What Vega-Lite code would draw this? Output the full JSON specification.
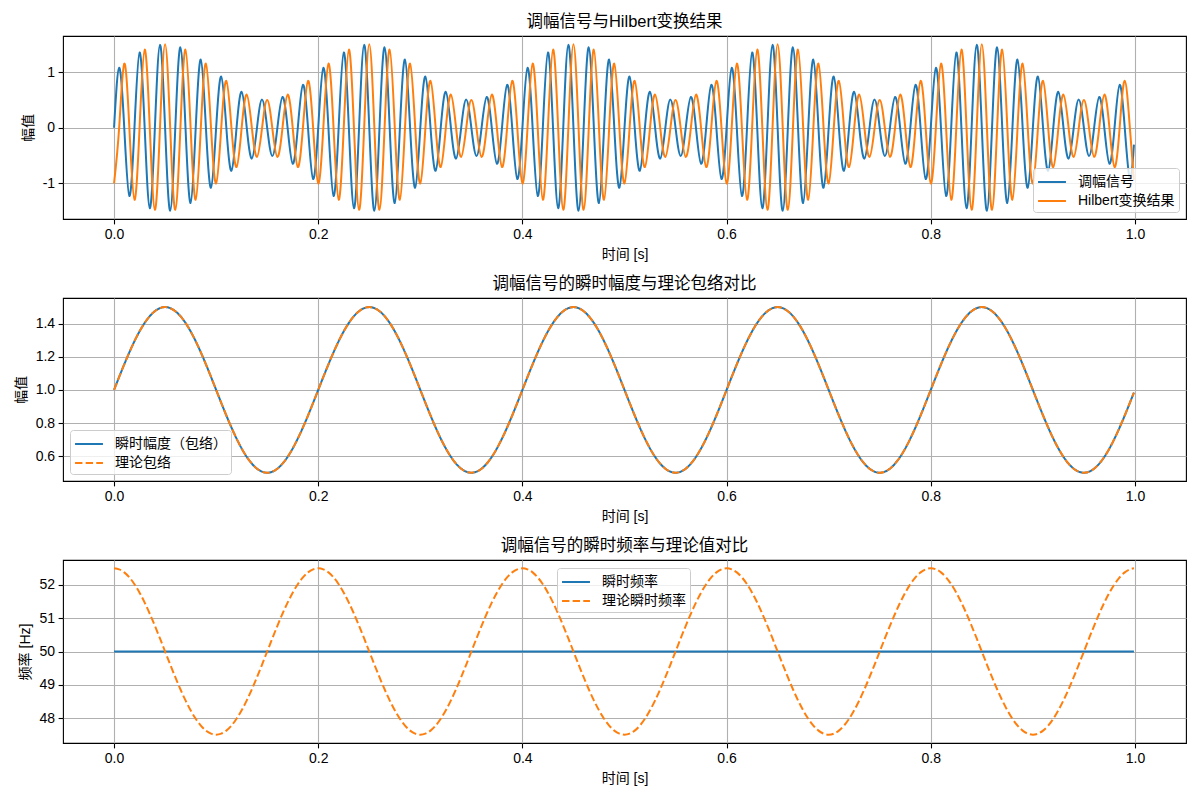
{
"$schema": "https://vega.github.io/schema/vega-lite/v6.json",
"padding": {"left": 13, "top": 12, "right": 10, "bottom": 10},
"spacing": 12,
"config": {
 "font": "Liberation Sans, Noto Sans CJK SC",
 "view": {"stroke": "#000", "strokeWidth": 1.1},
 "axis": {"domain": false, "grid": true, "gridColor": "#b0b0b0", "gridWidth": 1.1, "tickColor": "#000", "tickWidth": 1.1, "tickSize": 4.9, "labelFontSize": 14, "labelColor": "#000", "titleFontSize": 14, "titleFontWeight": "normal", "titleColor": "#000", "labelPadding": 3.5, "titlePadding": 6},
 "axisY": {"titlePadding": 7},
 "title": {"fontSize": 16.5, "fontWeight": "normal", "color": "#000", "offset": 6, "frame": "group"},
 "legend": {"labelFontSize": 14, "labelColor": "#000", "fillColor": "rgba(255,255,255,0.8)", "strokeColor": "#cccccc", "cornerRadius": 3, "padding": 4, "symbolType": "M-1.55,0H1.55", "symbolSize": 324, "symbolStrokeWidth": 2, "symbolOffset": 5, "labelOffset": 16, "rowPadding": 2, "title": null}
},
"datasets": {
"sig": [
{"t":0,"s":0,"h":-1,"e":1,"f":52.5},
{"t":0.005,"s":1.0782,"h":0,"e":1.0782,"f":52.469},
{"t":0.01,"s":0,"h":1.1545,"e":1.1545,"f":52.378},
{"t":0.015,"s":-1.227,"h":0,"e":1.227,"f":52.228},
{"t":0.02,"s":0,"h":-1.2939,"e":1.2939,"f":52.023},
{"t":0.025,"s":1.3536,"h":0,"e":1.3536,"f":51.768},
{"t":0.03,"s":0,"h":1.4045,"e":1.4045,"f":51.469},
{"t":0.035,"s":-1.4455,"h":0,"e":1.4455,"f":51.135},
{"t":0.04,"s":0,"h":-1.4755,"e":1.4755,"f":50.773},
{"t":0.045,"s":1.4938,"h":0,"e":1.4938,"f":50.391},
{"t":0.05,"s":0,"h":1.5,"e":1.5,"f":50},
{"t":0.055,"s":-1.4938,"h":0,"e":1.4938,"f":49.609},
{"t":0.06,"s":0,"h":-1.4755,"e":1.4755,"f":49.227},
{"t":0.065,"s":1.4455,"h":0,"e":1.4455,"f":48.865},
{"t":0.07,"s":0,"h":1.4045,"e":1.4045,"f":48.531},
{"t":0.075,"s":-1.3536,"h":0,"e":1.3536,"f":48.232},
{"t":0.08,"s":0,"h":-1.2939,"e":1.2939,"f":47.977},
{"t":0.085,"s":1.227,"h":0,"e":1.227,"f":47.772},
{"t":0.09,"s":0,"h":1.1545,"e":1.1545,"f":47.622},
{"t":0.095,"s":-1.0782,"h":0,"e":1.0782,"f":47.531},
{"t":0.1,"s":0,"h":-1,"e":1,"f":47.5},
{"t":0.105,"s":0.9218,"h":0,"e":0.9218,"f":47.531},
{"t":0.11,"s":0,"h":0.8455,"e":0.8455,"f":47.622},
{"t":0.115,"s":-0.773,"h":0,"e":0.773,"f":47.772},
{"t":0.12,"s":0,"h":-0.7061,"e":0.7061,"f":47.977},
{"t":0.125,"s":0.6464,"h":0,"e":0.6464,"f":48.232},
{"t":0.13,"s":0,"h":0.5955,"e":0.5955,"f":48.531},
{"t":0.135,"s":-0.5545,"h":0,"e":0.5545,"f":48.865},
{"t":0.14,"s":0,"h":-0.5245,"e":0.5245,"f":49.227},
{"t":0.145,"s":0.5062,"h":0,"e":0.5062,"f":49.609},
{"t":0.15,"s":0,"h":0.5,"e":0.5,"f":50},
{"t":0.155,"s":-0.5062,"h":0,"e":0.5062,"f":50.391},
{"t":0.16,"s":0,"h":-0.5245,"e":0.5245,"f":50.773},
{"t":0.165,"s":0.5545,"h":0,"e":0.5545,"f":51.135},
{"t":0.17,"s":0,"h":0.5955,"e":0.5955,"f":51.469},
{"t":0.175,"s":-0.6464,"h":0,"e":0.6464,"f":51.768},
{"t":0.18,"s":0,"h":-0.7061,"e":0.7061,"f":52.023},
{"t":0.185,"s":0.773,"h":0,"e":0.773,"f":52.228},
{"t":0.19,"s":0,"h":0.8455,"e":0.8455,"f":52.378},
{"t":0.195,"s":-0.9218,"h":0,"e":0.9218,"f":52.469},
{"t":0.2,"s":0,"h":-1,"e":1,"f":52.5},
{"t":0.205,"s":1.0782,"h":0,"e":1.0782,"f":52.469},
{"t":0.21,"s":0,"h":1.1545,"e":1.1545,"f":52.378},
{"t":0.215,"s":-1.227,"h":0,"e":1.227,"f":52.228},
{"t":0.22,"s":0,"h":-1.2939,"e":1.2939,"f":52.023},
{"t":0.225,"s":1.3536,"h":0,"e":1.3536,"f":51.768},
{"t":0.23,"s":0,"h":1.4045,"e":1.4045,"f":51.469},
{"t":0.235,"s":-1.4455,"h":0,"e":1.4455,"f":51.135},
{"t":0.24,"s":0,"h":-1.4755,"e":1.4755,"f":50.773},
{"t":0.245,"s":1.4938,"h":0,"e":1.4938,"f":50.391},
{"t":0.25,"s":0,"h":1.5,"e":1.5,"f":50},
{"t":0.255,"s":-1.4938,"h":0,"e":1.4938,"f":49.609},
{"t":0.26,"s":0,"h":-1.4755,"e":1.4755,"f":49.227},
{"t":0.265,"s":1.4455,"h":0,"e":1.4455,"f":48.865},
{"t":0.27,"s":0,"h":1.4045,"e":1.4045,"f":48.531},
{"t":0.275,"s":-1.3536,"h":0,"e":1.3536,"f":48.232},
{"t":0.28,"s":0,"h":-1.2939,"e":1.2939,"f":47.977},
{"t":0.285,"s":1.227,"h":0,"e":1.227,"f":47.772},
{"t":0.29,"s":0,"h":1.1545,"e":1.1545,"f":47.622},
{"t":0.295,"s":-1.0782,"h":0,"e":1.0782,"f":47.531},
{"t":0.3,"s":0,"h":-1,"e":1,"f":47.5},
{"t":0.305,"s":0.9218,"h":0,"e":0.9218,"f":47.531},
{"t":0.31,"s":0,"h":0.8455,"e":0.8455,"f":47.622},
{"t":0.315,"s":-0.773,"h":0,"e":0.773,"f":47.772},
{"t":0.32,"s":0,"h":-0.7061,"e":0.7061,"f":47.977},
{"t":0.325,"s":0.6464,"h":0,"e":0.6464,"f":48.232},
{"t":0.33,"s":0,"h":0.5955,"e":0.5955,"f":48.531},
{"t":0.335,"s":-0.5545,"h":0,"e":0.5545,"f":48.865},
{"t":0.34,"s":0,"h":-0.5245,"e":0.5245,"f":49.227},
{"t":0.345,"s":0.5062,"h":0,"e":0.5062,"f":49.609},
{"t":0.35,"s":0,"h":0.5,"e":0.5,"f":50},
{"t":0.355,"s":-0.5062,"h":0,"e":0.5062,"f":50.391},
{"t":0.36,"s":0,"h":-0.5245,"e":0.5245,"f":50.773},
{"t":0.365,"s":0.5545,"h":0,"e":0.5545,"f":51.135},
{"t":0.37,"s":0,"h":0.5955,"e":0.5955,"f":51.469},
{"t":0.375,"s":-0.6464,"h":0,"e":0.6464,"f":51.768},
{"t":0.38,"s":0,"h":-0.7061,"e":0.7061,"f":52.023},
{"t":0.385,"s":0.773,"h":0,"e":0.773,"f":52.228},
{"t":0.39,"s":0,"h":0.8455,"e":0.8455,"f":52.378},
{"t":0.395,"s":-0.9218,"h":0,"e":0.9218,"f":52.469},
{"t":0.4,"s":0,"h":-1,"e":1,"f":52.5},
{"t":0.405,"s":1.0782,"h":0,"e":1.0782,"f":52.469},
{"t":0.41,"s":0,"h":1.1545,"e":1.1545,"f":52.378},
{"t":0.415,"s":-1.227,"h":0,"e":1.227,"f":52.228},
{"t":0.42,"s":0,"h":-1.2939,"e":1.2939,"f":52.023},
{"t":0.425,"s":1.3536,"h":0,"e":1.3536,"f":51.768},
{"t":0.43,"s":0,"h":1.4045,"e":1.4045,"f":51.469},
{"t":0.435,"s":-1.4455,"h":0,"e":1.4455,"f":51.135},
{"t":0.44,"s":0,"h":-1.4755,"e":1.4755,"f":50.773},
{"t":0.445,"s":1.4938,"h":0,"e":1.4938,"f":50.391},
{"t":0.45,"s":0,"h":1.5,"e":1.5,"f":50},
{"t":0.455,"s":-1.4938,"h":0,"e":1.4938,"f":49.609},
{"t":0.46,"s":0,"h":-1.4755,"e":1.4755,"f":49.227},
{"t":0.465,"s":1.4455,"h":0,"e":1.4455,"f":48.865},
{"t":0.47,"s":0,"h":1.4045,"e":1.4045,"f":48.531},
{"t":0.475,"s":-1.3536,"h":0,"e":1.3536,"f":48.232},
{"t":0.48,"s":0,"h":-1.2939,"e":1.2939,"f":47.977},
{"t":0.485,"s":1.227,"h":0,"e":1.227,"f":47.772},
{"t":0.49,"s":0,"h":1.1545,"e":1.1545,"f":47.622},
{"t":0.495,"s":-1.0782,"h":0,"e":1.0782,"f":47.531},
{"t":0.5,"s":0,"h":-1,"e":1,"f":47.5},
{"t":0.505,"s":0.9218,"h":0,"e":0.9218,"f":47.531},
{"t":0.51,"s":0,"h":0.8455,"e":0.8455,"f":47.622},
{"t":0.515,"s":-0.773,"h":0,"e":0.773,"f":47.772},
{"t":0.52,"s":0,"h":-0.7061,"e":0.7061,"f":47.977},
{"t":0.525,"s":0.6464,"h":0,"e":0.6464,"f":48.232},
{"t":0.53,"s":0,"h":0.5955,"e":0.5955,"f":48.531},
{"t":0.535,"s":-0.5545,"h":0,"e":0.5545,"f":48.865},
{"t":0.54,"s":0,"h":-0.5245,"e":0.5245,"f":49.227},
{"t":0.545,"s":0.5062,"h":0,"e":0.5062,"f":49.609},
{"t":0.55,"s":0,"h":0.5,"e":0.5,"f":50},
{"t":0.555,"s":-0.5062,"h":0,"e":0.5062,"f":50.391},
{"t":0.56,"s":0,"h":-0.5245,"e":0.5245,"f":50.773},
{"t":0.565,"s":0.5545,"h":0,"e":0.5545,"f":51.135},
{"t":0.57,"s":0,"h":0.5955,"e":0.5955,"f":51.469},
{"t":0.575,"s":-0.6464,"h":0,"e":0.6464,"f":51.768},
{"t":0.58,"s":0,"h":-0.7061,"e":0.7061,"f":52.023},
{"t":0.585,"s":0.773,"h":0,"e":0.773,"f":52.228},
{"t":0.59,"s":0,"h":0.8455,"e":0.8455,"f":52.378},
{"t":0.595,"s":-0.9218,"h":0,"e":0.9218,"f":52.469},
{"t":0.6,"s":0,"h":-1,"e":1,"f":52.5},
{"t":0.605,"s":1.0782,"h":0,"e":1.0782,"f":52.469},
{"t":0.61,"s":0,"h":1.1545,"e":1.1545,"f":52.378},
{"t":0.615,"s":-1.227,"h":0,"e":1.227,"f":52.228},
{"t":0.62,"s":0,"h":-1.2939,"e":1.2939,"f":52.023},
{"t":0.625,"s":1.3536,"h":0,"e":1.3536,"f":51.768},
{"t":0.63,"s":0,"h":1.4045,"e":1.4045,"f":51.469},
{"t":0.635,"s":-1.4455,"h":0,"e":1.4455,"f":51.135},
{"t":0.64,"s":0,"h":-1.4755,"e":1.4755,"f":50.773},
{"t":0.645,"s":1.4938,"h":0,"e":1.4938,"f":50.391},
{"t":0.65,"s":0,"h":1.5,"e":1.5,"f":50},
{"t":0.655,"s":-1.4938,"h":0,"e":1.4938,"f":49.609},
{"t":0.66,"s":0,"h":-1.4755,"e":1.4755,"f":49.227},
{"t":0.665,"s":1.4455,"h":0,"e":1.4455,"f":48.865},
{"t":0.67,"s":0,"h":1.4045,"e":1.4045,"f":48.531},
{"t":0.675,"s":-1.3536,"h":0,"e":1.3536,"f":48.232},
{"t":0.68,"s":0,"h":-1.2939,"e":1.2939,"f":47.977},
{"t":0.685,"s":1.227,"h":0,"e":1.227,"f":47.772},
{"t":0.69,"s":0,"h":1.1545,"e":1.1545,"f":47.622},
{"t":0.695,"s":-1.0782,"h":0,"e":1.0782,"f":47.531},
{"t":0.7,"s":0,"h":-1,"e":1,"f":47.5},
{"t":0.705,"s":0.9218,"h":0,"e":0.9218,"f":47.531},
{"t":0.71,"s":0,"h":0.8455,"e":0.8455,"f":47.622},
{"t":0.715,"s":-0.773,"h":0,"e":0.773,"f":47.772},
{"t":0.72,"s":0,"h":-0.7061,"e":0.7061,"f":47.977},
{"t":0.725,"s":0.6464,"h":0,"e":0.6464,"f":48.232},
{"t":0.73,"s":0,"h":0.5955,"e":0.5955,"f":48.531},
{"t":0.735,"s":-0.5545,"h":0,"e":0.5545,"f":48.865},
{"t":0.74,"s":0,"h":-0.5245,"e":0.5245,"f":49.227},
{"t":0.745,"s":0.5062,"h":0,"e":0.5062,"f":49.609},
{"t":0.75,"s":0,"h":0.5,"e":0.5,"f":50},
{"t":0.755,"s":-0.5062,"h":0,"e":0.5062,"f":50.391},
{"t":0.76,"s":0,"h":-0.5245,"e":0.5245,"f":50.773},
{"t":0.765,"s":0.5545,"h":0,"e":0.5545,"f":51.135},
{"t":0.77,"s":0,"h":0.5955,"e":0.5955,"f":51.469},
{"t":0.775,"s":-0.6464,"h":0,"e":0.6464,"f":51.768},
{"t":0.78,"s":0,"h":-0.7061,"e":0.7061,"f":52.023},
{"t":0.785,"s":0.773,"h":0,"e":0.773,"f":52.228},
{"t":0.79,"s":0,"h":0.8455,"e":0.8455,"f":52.378},
{"t":0.795,"s":-0.9218,"h":0,"e":0.9218,"f":52.469},
{"t":0.8,"s":0,"h":-1,"e":1,"f":52.5},
{"t":0.805,"s":1.0782,"h":0,"e":1.0782,"f":52.469},
{"t":0.81,"s":0,"h":1.1545,"e":1.1545,"f":52.378},
{"t":0.815,"s":-1.227,"h":0,"e":1.227,"f":52.228},
{"t":0.82,"s":0,"h":-1.2939,"e":1.2939,"f":52.023},
{"t":0.825,"s":1.3536,"h":0,"e":1.3536,"f":51.768},
{"t":0.83,"s":0,"h":1.4045,"e":1.4045,"f":51.469},
{"t":0.835,"s":-1.4455,"h":0,"e":1.4455,"f":51.135},
{"t":0.84,"s":0,"h":-1.4755,"e":1.4755,"f":50.773},
{"t":0.845,"s":1.4938,"h":0,"e":1.4938,"f":50.391},
{"t":0.85,"s":0,"h":1.5,"e":1.5,"f":50},
{"t":0.855,"s":-1.4938,"h":0,"e":1.4938,"f":49.609},
{"t":0.86,"s":0,"h":-1.4755,"e":1.4755,"f":49.227},
{"t":0.865,"s":1.4455,"h":0,"e":1.4455,"f":48.865},
{"t":0.87,"s":0,"h":1.4045,"e":1.4045,"f":48.531},
{"t":0.875,"s":-1.3536,"h":0,"e":1.3536,"f":48.232},
{"t":0.88,"s":0,"h":-1.2939,"e":1.2939,"f":47.977},
{"t":0.885,"s":1.227,"h":0,"e":1.227,"f":47.772},
{"t":0.89,"s":0,"h":1.1545,"e":1.1545,"f":47.622},
{"t":0.895,"s":-1.0782,"h":0,"e":1.0782,"f":47.531},
{"t":0.9,"s":0,"h":-1,"e":1,"f":47.5},
{"t":0.905,"s":0.9218,"h":0,"e":0.9218,"f":47.531},
{"t":0.91,"s":0,"h":0.8455,"e":0.8455,"f":47.622},
{"t":0.915,"s":-0.773,"h":0,"e":0.773,"f":47.772},
{"t":0.92,"s":0,"h":-0.7061,"e":0.7061,"f":47.977},
{"t":0.925,"s":0.6464,"h":0,"e":0.6464,"f":48.232},
{"t":0.93,"s":0,"h":0.5955,"e":0.5955,"f":48.531},
{"t":0.935,"s":-0.5545,"h":0,"e":0.5545,"f":48.865},
{"t":0.94,"s":0,"h":-0.5245,"e":0.5245,"f":49.227},
{"t":0.945,"s":0.5062,"h":0,"e":0.5062,"f":49.609},
{"t":0.95,"s":0,"h":0.5,"e":0.5,"f":50},
{"t":0.955,"s":-0.5062,"h":0,"e":0.5062,"f":50.391},
{"t":0.96,"s":0,"h":-0.5245,"e":0.5245,"f":50.773},
{"t":0.965,"s":0.5545,"h":0,"e":0.5545,"f":51.135},
{"t":0.97,"s":0,"h":0.5955,"e":0.5955,"f":51.469},
{"t":0.975,"s":-0.6464,"h":0,"e":0.6464,"f":51.768},
{"t":0.98,"s":0,"h":-0.7061,"e":0.7061,"f":52.023},
{"t":0.985,"s":0.773,"h":0,"e":0.773,"f":52.228},
{"t":0.99,"s":0,"h":0.8455,"e":0.8455,"f":52.378},
{"t":0.995,"s":-0.9218,"h":0,"e":0.9218,"f":52.469},
{"t":0.999,"s":-0.304,"h":-0.936,"e":0.984,"f":52.499}
],
"fi": [{"t":0,"v":50},{"t":0.999,"v":50}]
},
"resolve": {"scale": {"color": "independent", "strokeDash": "independent"}},
"vconcat": [
 {
  "width": 1123, "height": 183,
  "title": "调幅信号与Hilbert变换结果",
  "data": {"name": "sig"},
  "layer": [
   {"mark": {"type": "line", "interpolate": "natural", "strokeWidth": 2},
    "encoding": {
     "x": {"field": "t", "type": "quantitative", "scale": {"domain": [-0.05, 1.05], "nice": false, "zero": false}, "axis": {"values": [0, 0.2, 0.4, 0.6, 0.8, 1], "format": ".1f", "title": "时间 [s]"}},
     "y": {"field": "s", "type": "quantitative", "scale": {"domain": [-1.64, 1.65], "nice": false, "zero": false}, "axis": {"values": [-1, 0, 1], "labelExpr": "'' + datum.value", "title": "幅值"}},
     "color": {"datum": "调幅信号", "type": "nominal", "scale": {"domain": ["调幅信号", "Hilbert变换结果"], "range": ["#1f77b4", "#ff7f0e"]}, "legend": {"orient": "bottom-right", "offset": 7}}
    }},
   {"mark": {"type": "line", "interpolate": "natural", "strokeWidth": 2},
    "encoding": {
     "x": {"field": "t", "type": "quantitative"},
     "y": {"field": "h", "type": "quantitative"},
     "color": {"datum": "Hilbert变换结果", "type": "nominal"}
    }}
  ]
 },
 {
  "width": 1123, "height": 183,
  "title": "调幅信号的瞬时幅度与理论包络对比",
  "data": {"name": "sig"},
  "layer": [
   {"mark": {"type": "line", "interpolate": "natural", "strokeWidth": 2},
    "encoding": {
     "x": {"field": "t", "type": "quantitative", "scale": {"domain": [-0.05, 1.05], "nice": false, "zero": false}, "axis": {"values": [0, 0.2, 0.4, 0.6, 0.8, 1], "format": ".1f", "title": "时间 [s]"}},
     "y": {"field": "e", "type": "quantitative", "scale": {"domain": [0.45, 1.555], "nice": false, "zero": false}, "axis": {"values": [0.6, 0.8, 1.0, 1.2, 1.4], "format": ".1f", "title": "幅值"}},
     "color": {"datum": "瞬时幅度（包络）", "type": "nominal", "scale": {"domain": ["瞬时幅度（包络）", "理论包络"], "range": ["#1f77b4", "#ff7f0e"]}, "legend": {"orient": "bottom-left", "offset": 7}},
     "strokeDash": {"datum": "瞬时幅度（包络）", "type": "nominal", "scale": {"domain": ["瞬时幅度（包络）", "理论包络"], "range": [[1, 0], [7.4, 3.2]]}, "legend": {"orient": "bottom-left", "offset": 7}}
    }},
   {"mark": {"type": "line", "interpolate": "natural", "strokeWidth": 2},
    "encoding": {
     "x": {"field": "t", "type": "quantitative"},
     "y": {"field": "e", "type": "quantitative"},
     "color": {"datum": "理论包络", "type": "nominal"},
     "strokeDash": {"datum": "理论包络", "type": "nominal"}
    }}
  ]
 },
 {
  "width": 1123, "height": 183,
  "title": "调幅信号的瞬时频率与理论值对比",
  "layer": [
   {"data": {"name": "fi"},
    "mark": {"type": "line", "strokeWidth": 2},
    "encoding": {
     "x": {"field": "t", "type": "quantitative", "scale": {"domain": [-0.05, 1.05], "nice": false, "zero": false}, "axis": {"values": [0, 0.2, 0.4, 0.6, 0.8, 1], "format": ".1f", "title": "时间 [s]"}},
     "y": {"field": "v", "type": "quantitative", "scale": {"domain": [47.25, 52.75], "nice": false, "zero": false}, "axis": {"values": [48, 49, 50, 51, 52], "format": "d", "title": "频率 [Hz]"}},
     "color": {"datum": "瞬时频率", "type": "nominal", "scale": {"domain": ["瞬时频率", "理论瞬时频率"], "range": ["#1f77b4", "#ff7f0e"]}, "legend": {"orient": "none", "legendX": 494, "legendY": 8}},
     "strokeDash": {"datum": "瞬时频率", "type": "nominal", "scale": {"domain": ["瞬时频率", "理论瞬时频率"], "range": [[1, 0], [7.4, 3.2]]}, "legend": {"orient": "none", "legendX": 494, "legendY": 8}}
    }},
   {"data": {"name": "sig"},
    "mark": {"type": "line", "interpolate": "natural", "strokeWidth": 2},
    "encoding": {
     "x": {"field": "t", "type": "quantitative"},
     "y": {"field": "f", "type": "quantitative"},
     "color": {"datum": "理论瞬时频率", "type": "nominal"},
     "strokeDash": {"datum": "理论瞬时频率", "type": "nominal"}
    }}
  ]
 }
]
}
